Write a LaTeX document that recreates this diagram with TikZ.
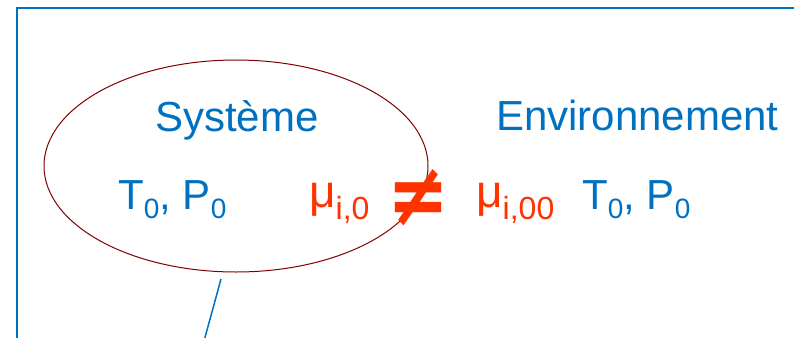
\documentclass[tikz,border=0pt]{standalone}
\usepackage{fontspec}
\setmainfont{Liberation Sans}
\newfontfamily\neqfont{DejaVu Sans}
\usetikzlibrary{shapes.geometric}
\definecolor{ppblue}{RGB}{0,112,192}
\definecolor{ppred}{RGB}{255,51,0}
\definecolor{ppdark}{RGB}{128,0,0}
\newcommand{\bsub}[1]{\raisebox{-9pt}{\fontsize{28}{28}\selectfont #1}}
\newcommand{\rsub}[1]{\raisebox{-12pt}{\fontsize{32}{32}\selectfont #1}}
\begin{document}
\begin{tikzpicture}[x=1pt,y=-1pt,
  bluetxt/.style={inner sep=0pt, anchor=base west, text=ppblue, font=\fontsize{42}{42}\selectfont},
  redtxt/.style={inner sep=0pt, anchor=base west, text=ppred, font=\fontsize{46}{46}\selectfont},
  frame/.style={draw=ppblue, line width=2pt},
  sysellipse/.style={ellipse, draw=ppdark, line width=1pt, inner sep=0pt, minimum width=384pt, minimum height=212pt},
  leader/.style={draw=ppblue, line width=1.5pt}]
\useasboundingbox (0,0) rectangle (794,337);
\clip (0,0) rectangle (794,337);
\draw[frame] (17,345) -- (17,8) -- (800,8);
\node[sysellipse] (sys) at (236,166) {};
\node[bluetxt] (systeme) at (155,131) {Système};
\node[bluetxt] (envir) at (496,130) {Environnement};
\node[bluetxt] (tpsys) at (118,209) {T\bsub{0}, P\bsub{0}};
\node[bluetxt] (tpenv) at (582,209) {T\bsub{0}, P\bsub{0}};
\node[redtxt] (musys) at (309,207) {μ\rsub{i,0}};
\node[redtxt] (muenv) at (476,207) {μ\rsub{i,00}};
\node[inner sep=0pt, anchor=center, text=ppred, yscale=1.2, font=\neqfont\bfseries\fontsize{74}{74}\selectfont] (neq) at (418,198) {≠};
\coordinate (leadA) at (221,279);
\coordinate (leadB) at (201,352);
\draw[leader] (leadA) -- (leadB);
\end{tikzpicture}
\end{document}
